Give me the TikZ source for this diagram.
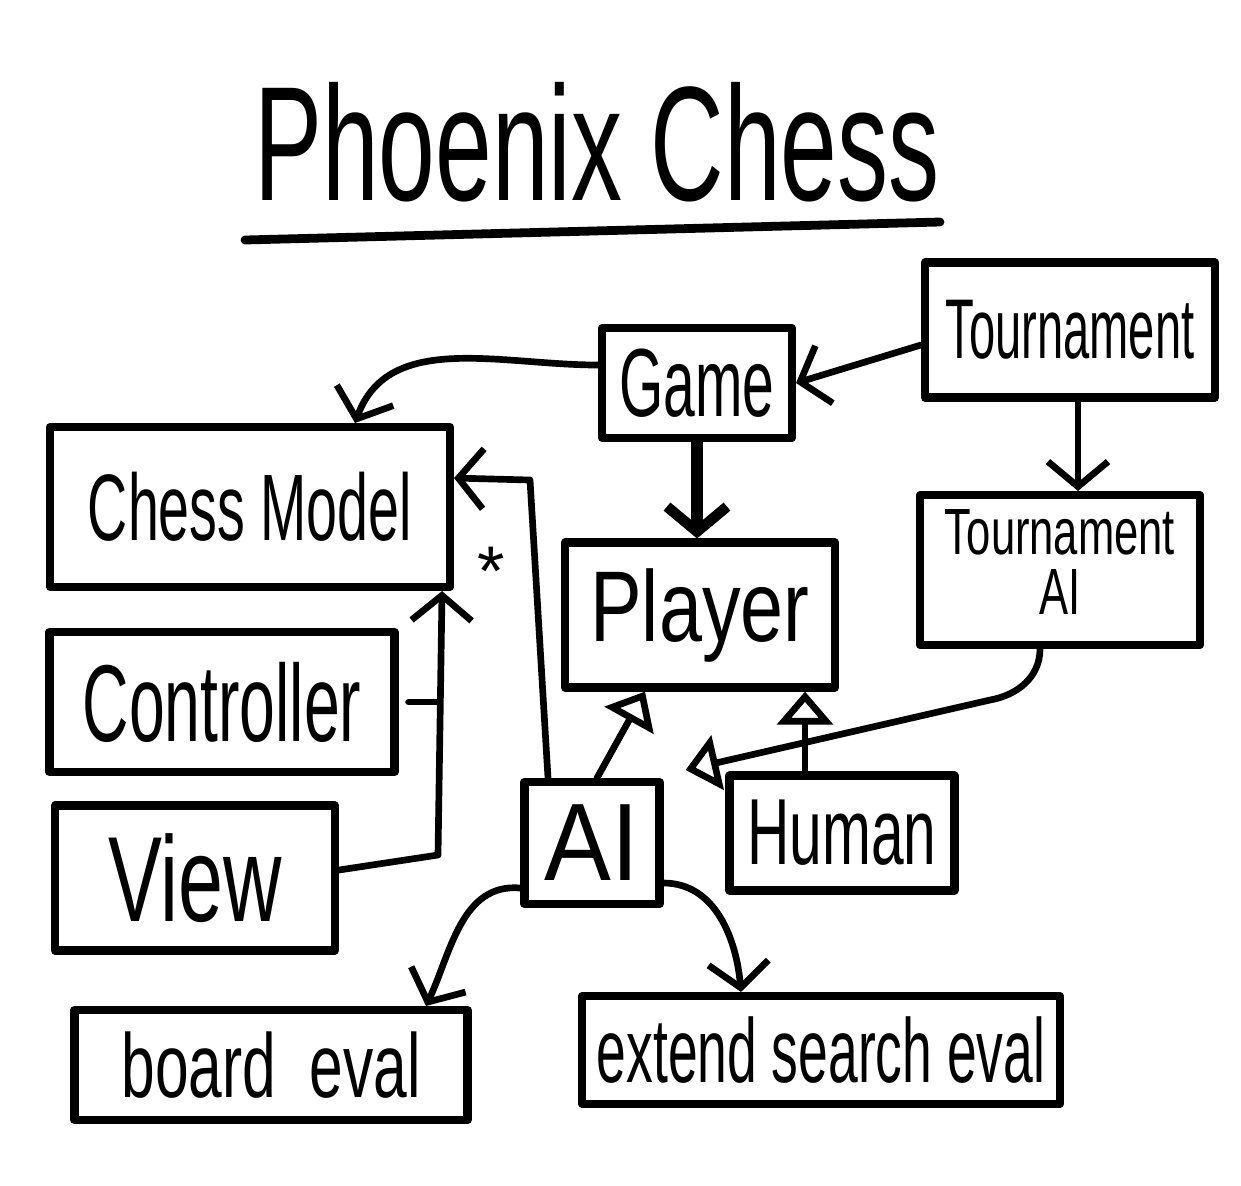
\documentclass[tikz,border=0pt]{standalone}
\usepackage{fontspec}
\setmainfont{Liberation Sans}
\usepackage{graphicx}
\usetikzlibrary{arrows.meta}
\newcommand{\hw}[2][1.6]{\scalebox{1}[#1]{#2}}

\begin{document}
\begin{tikzpicture}[
  box/.style={draw, line width=2.3pt, inner sep=0pt},
  arr/.style={line width=1.9pt, -{Straight Barb[length=2.5mm,width=6mm,line width=1.9pt]}},
  inh/.style={line width=1.9pt, -{Triangle[open,length=3.3mm,width=5.5mm,line width=1.9pt]}},
  line join=round, line cap=round]
\useasboundingbox (0,0) rectangle (12.41,-11.85);

% title
\node (title) at (5.97,-1.42) {\fontsize{29}{32}\selectfont\hw{Phoenix Chess}};
\draw[line width=2.5pt] (2.45,-2.4) -- (9.4,-2.22);

% boxes
\node[box, minimum width=2.9cm, minimum height=1.35cm, font=\fontsize{13.4}{15}\selectfont] (tour) at (10.7,-3.3) {\hw[1.8]{Tournament}};
\node[box, minimum width=1.9cm, minimum height=1.1cm, font=\fontsize{16.2}{18}\selectfont] (game) at (6.97,-3.83) {\hw[1.7]{Game}};
\node[box, minimum width=4cm, minimum height=1.6cm, font=\fontsize{15.8}{18}\selectfont] (model) at (2.5,-5.07) {\hw[1.7]{Chess Model}};
\node[box, minimum width=2.7cm, minimum height=1.45cm, font=\fontsize{22}{24}\selectfont] (player) at (7,-6.15) {\hw[1.3]{Player}};
\node[box, minimum width=2.8cm, minimum height=1.5cm, font=\fontsize{12.4}{10}\selectfont] (tai) at (10.6,-5.7) {\hw[1.5]{\begin{tabular}{@{}c@{}}Tournament\\AI\end{tabular}}};
\node[box, minimum width=3.45cm, minimum height=1.4cm, font=\fontsize{18.3}{20}\selectfont] (ctrl) at (2.22,-7.02) {\hw[1.7]{Controller}};
\node[box, minimum width=2.8cm, minimum height=1.45cm, font=\fontsize{23}{25}\selectfont] (view) at (1.95,-8.78) {\hw[1.5]{View}};
\node[box, minimum width=1.35cm, minimum height=1.22cm, font=\fontsize{28.5}{30}\selectfont] (ai) at (5.92,-8.43) {\hw[1.1]{AI}};
\node[box, minimum width=2.25cm, minimum height=1.15cm, font=\fontsize{16.7}{18}\selectfont] (human) at (8.42,-8.33) {\hw[1.6]{Human}};
\node[box, minimum width=3.93cm, minimum height=1.1cm, font=\fontsize{17.2}{19}\selectfont] (beval) at (2.71,-10.65) {\hw[1.5]{board\ \ eval}};
\node[box, minimum width=4.78cm, minimum height=1.08cm, font=\fontsize{15.2}{17}\selectfont] (xeval) at (8.21,-10.5) {\hw[1.7]{extend search eval}};

% connectors
\draw[arr] ([yshift=0.18cm]game.west) to[out=180,in=70] ([xshift=1.05cm]model.north);
\draw[arr] ([yshift=-0.15cm]tour.west) -- (game.east);
\draw[arr] ([xshift=0.08cm]tour.south) -- ([xshift=0.08cm]tour.south |- tai.north);
\draw[line width=3.5pt, -{Straight Barb[length=2.5mm,width=6mm,line width=3pt]}] (game.south) -- (game.south |- player.north);

\coordinate (bend) at (5.3,-4.8);
\draw[arr] ([xshift=-0.44cm]ai.north) -- (bend) -- ([yshift=0.29cm]model.east);

\coordinate (jn) at (4.38,-8.55);
\draw[arr] ([yshift=0.08cm]view.east) -- (jn) -- ([xshift=-0.12cm]model.south east);
\draw[line width=1.9pt] ([xshift=0.1cm]ctrl.east) -- (ctrl.east -| jn);
\node (many) at ([xshift=0.37cm,yshift=0.2cm]model.south east) {\fontsize{20}{20}\selectfont *};

\draw[inh] ([xshift=0.05cm]ai.north) -- ([xshift=-0.55cm]player.south);
\draw[inh] ([xshift=-0.37cm]human.north) -- ([xshift=-0.37cm]human.north |- player.south);
\coordinate (kink) at (9.9,-7.0);
\draw[inh] ([xshift=-0.2cm]tai.south) to[out=-90,in=10] (kink) -- ([xshift=0.22cm,yshift=0.08cm]ai.north east);

\draw[arr] ([yshift=-0.45cm]ai.west) to[out=175,in=65] ([xshift=1.55cm]beval.north);
\draw[arr] ([yshift=-0.4cm]ai.east) to[out=0,in=95] ([xshift=-0.8cm]xeval.north);
\end{tikzpicture}
\end{document}
